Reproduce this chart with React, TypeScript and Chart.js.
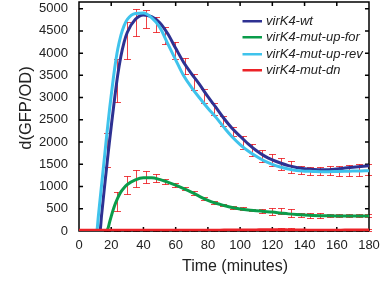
import React, { useEffect, useRef } from "react";
import { Chart, registerables } from "chart.js";

Chart.register(...registerables);

// Fitted curves sampled at these times (minutes)
const curveT = [0, 5, 10, 11, 12, 13, 14, 15, 16, 17, 18, 19, 20, 22, 24, 26, 28, 30,
  35, 40, 45, 50, 55, 60, 65, 70, 75, 80, 85, 90, 95, 100, 105, 110, 115, 120, 125, 130,
  135, 140, 145, 150, 155, 160, 165, 170, 175, 180];

const wtCurve = [0, 0, 0, 0, 0, 0, 350, 700, 1050, 1380, 1720, 2040, 2350, 2950, 3500, 3930, 4250, 4470,
  4760, 4860, 4820, 4690, 4440, 4110, 3790, 3530, 3285, 3020, 2780, 2530, 2310, 2130, 1960, 1810, 1690, 1600, 1530, 1470,
  1430, 1400, 1385, 1375, 1380, 1395, 1415, 1435, 1452, 1467];

const upForCurve = [0, 0, 0, 0, 0, 0, 0, 0, 0, 0, 60, 200, 330, 560, 740, 880, 975, 1045,
  1150, 1195, 1195, 1160, 1100, 1030, 955, 870, 775, 690, 625, 575, 530, 495, 470, 455, 440, 425, 405, 385,
  370, 358, 350, 345, 342, 340, 339, 338, 338, 338];

const upRevCurve = [0, 0, 0, 0, 330, 680, 1030, 1380, 1730, 2080, 2420, 2750, 3050, 3620, 4080, 4400, 4620, 4760,
  4890, 4900, 4800, 4590, 4220, 3850, 3490, 3220, 2985, 2760, 2555, 2330, 2120, 1945, 1800, 1680, 1575, 1500, 1440, 1395,
  1360, 1345, 1340, 1335, 1335, 1338, 1342, 1348, 1352, 1356];

const dnCurve = [15, 15, 15, 15, 15, 15, 15, 15, 15, 15, 15, 15, 15, 15, 15, 15, 15, 15,
  15, 15, 15, 15, 15, 15, 15, 15, 18, 18, 18, 20, 20, 20, 22, 25, 28, 30, 28, 25,
  22, 20, 18, 18, 18, 18, 20, 20, 20, 20];

// Measurement times with error bars
const errT = [17.5, 23.5, 29.5, 35.5, 41.5, 47.5, 53.5, 59.5, 65.5, 71.5, 77.5, 83.5, 89.5, 95.5,
  101.5, 107.5, 113.5, 119.5, 125.5, 131.5, 137.5, 143.5, 149.5, 155.5, 161.5, 167.5, 173.5, 179.5];

const wtLo = [1430, 2910, 3860, 4380, 4560, 4480, 4210, 3870, 3520, 3170, 2874, 2615, 2356, 2133,
  1837, 1690, 1556, 1452, 1370, 1310, 1282, 1260, 1267, 1259, 1244, 1244, 1244, 1250];
const wtHi = [2200, 3860, 4700, 5000, 4970, 4820, 4580, 4250, 3900, 3540, 3185, 2874, 2578, 2333,
  2133, 1950, 1815, 1726, 1650, 1575, 1467, 1450, 1444, 1467, 1467, 1489, 1518, 1500];

const upForLo = [null, 452, 822, 1000, 1090, 1110, 1060, 990, 920, 810, 700, 610, 555, 505,
  465, 440, 415, 370, 378, 319, 304, 296, 296, 304, 304, 304, 304, 304];
const upForHi = [null, 874, 1244, 1370, 1356, 1290, 1170, 1080, 990, 890, 775, 680, 615, 565,
  530, 505, 490, 526, 518, 504, 407, 407, 407, 393, 393, 378, 378, 378];

const dnLo = [0, 0, 0, 0, 0, 0, 0, 0, 0, 0, 0, 0, 0, 0,
  0, 0, 0, 0, 0, 0, 0, 0, 0, 0, 0, 0, 0, 0];
const dnHi = [30, 30, 30, 30, 35, 35, 30, 30, 30, 30, 35, 35, 35, 35,
  35, 40, 45, 50, 59, 59, 40, 35, 35, 35, 35, 35, 35, 35];

const xTicks = [0, 20, 40, 60, 80, 100, 120, 140, 160, 180];
const yTicks = [0, 500, 1000, 1500, 2000, 2500, 3000, 3500, 4000, 4500, 5000];
const X_MIN = 0;
const X_MAX = 180;
const Y_MIN = 0;
const Y_MAX = 5150;
// inward tick length, in data units (about 4 px each way)
const TICK_DY = 90;
const TICK_DX = 2.5;

const seriesNames = ["virK4-wt", "virK4-mut-up-for", "virK4-mut-up-rev", "virK4-mut-dn"];
const seriesColors = ["#2e3192", "#0a9c4a", "#3fc3ec", "#ec2227"];

const xTitle = "Time (minutes)";
const yTitle = "d(GFP/OD)";

const FONT = "'Liberation Sans', Arial, Helvetica, sans-serif";

function framePoints() {
  const p: any[] = [
    { x: X_MAX, y: Y_MIN }, { x: X_MIN, y: Y_MIN }, { x: X_MIN, y: Y_MAX },
    { x: X_MAX, y: Y_MAX }, { x: X_MAX, y: Y_MIN }, { x: X_MAX, y: null },
  ];
  for (const v of xTicks) {
    p.push({ x: v, y: Y_MIN }, { x: v, y: Y_MIN + TICK_DY }, { x: v, y: null });
    p.push({ x: v, y: Y_MAX }, { x: v, y: Y_MAX - TICK_DY }, { x: v, y: null });
  }
  for (const v of yTicks) {
    p.push({ x: X_MIN, y: v }, { x: X_MIN + TICK_DX, y: v }, { x: X_MIN, y: null });
    p.push({ x: X_MAX, y: v }, { x: X_MAX - TICK_DX, y: v }, { x: X_MAX, y: null });
  }
  return p;
}

export default function App() {
  const ref = useRef<HTMLCanvasElement>(null);

  useEffect(() => {
    const canvas = ref.current;
    if (!canvas) return;
    const pts = (arr: number[]) => curveT.map((t, i) => ({ x: t, y: arr[i] }));
    const errorSets = [
      { lo: wtLo, hi: wtHi },
      { lo: upForLo, hi: upForHi },
      { lo: dnLo, hi: dnHi },
    ];

    const decor = {
      id: "decor",
      beforeDatasetsDraw(chart: any) {
        const ctx = chart.ctx;
        const x = chart.scales.x;
        const y = chart.scales.y;
        ctx.save();
        ctx.fillStyle = "rgba(236,34,39,0.85)";
        for (const s of errorSets) {
          for (let i = 0; i < errT.length; i++) {
            const lo = s.lo[i];
            const hi = s.hi[i];
            if (lo == null || hi == null) continue;
            const px = Math.round(x.getPixelForValue(errT[i]));
            const y1 = Math.round(y.getPixelForValue(lo));
            const y2 = Math.round(y.getPixelForValue(hi));
            ctx.fillRect(px, y2, 1, y1 - y2 + 1);
            ctx.fillRect(px - 3, y1, 7, 1);
            ctx.fillRect(px - 3, y2, 7, 1);
          }
        }
        ctx.restore();
      },
      afterDraw(chart: any) {
        const ctx = chart.ctx;
        ctx.save();
        // legend
        const lx0 = 242.5;
        const ly0 = 20.5;
        const step = 16.5;
        ctx.font = `italic 13px ${FONT}`;
        ctx.textAlign = "left";
        ctx.textBaseline = "middle";
        seriesNames.forEach((name, i) => {
          const yy = ly0 + i * step;
          ctx.fillStyle = seriesColors[i];
          ctx.fillRect(lx0, Math.round(yy) - 1, 19.5, 2.5);
          ctx.fillStyle = "#222";
          ctx.fillText(name, 266, yy + 0.5);
        });
        // axis titles
        ctx.fillStyle = "#222";
        ctx.font = `16px ${FONT}`;
        ctx.textAlign = "center";
        ctx.textBaseline = "middle";
        ctx.fillText(xTitle, 235, 267);
        ctx.translate(26, 108);
        ctx.rotate(-Math.PI / 2);
        ctx.font = `16.5px ${FONT}`;
        ctx.fillText(yTitle, 0, 0);
        ctx.restore();
      },
    };

    const mk = (label: string, data: number[], color: string, order: number) => ({
      label,
      data: pts(data),
      borderColor: color,
      backgroundColor: color,
      borderWidth: 3,
      pointRadius: 0,
      fill: false,
      cubicInterpolationMode: "monotone" as const,
      order,
    });

    const chart = new Chart(canvas, {
      type: "line",
      data: {
        datasets: [
          mk(seriesNames[0], wtCurve, seriesColors[0], 3),
          mk(seriesNames[1], upForCurve, seriesColors[1], 2),
          mk(seriesNames[2], upRevCurve, seriesColors[2], 1),
          mk(seriesNames[3], dnCurve, seriesColors[3], 0),
          {
            label: "frame",
            data: framePoints(),
            borderColor: "#000",
            backgroundColor: "#000",
            borderWidth: 1.5,
            pointRadius: 0,
            fill: false,
            tension: 0,
            spanGaps: false,
            clip: false,
            order: 10,
          } as any,
        ],
      },
      options: {
        responsive: false,
        animation: false,
        parsing: true,
        layout: { padding: { left: 0, right: 20, top: 2, bottom: 0 } },
        plugins: { legend: { display: false }, tooltip: { enabled: false } },
        scales: {
          x: {
            type: "linear",
            min: X_MIN,
            max: X_MAX,
            afterBuildTicks: (s: any) => {
              s.ticks = xTicks.map((v) => ({ value: v }));
            },
            afterFit: (s: any) => {
              s.height = 50;
              s.paddingLeft = 0;
              s.paddingRight = 0;
            },
            ticks: {
              font: { family: FONT, size: 13 },
              color: "#222",
              padding: 7,
              maxRotation: 0,
              autoSkip: false,
              callback: (v: any) => String(v),
            },
            grid: { display: false, drawTicks: false },
            border: { display: false },
          },
          y: {
            type: "linear",
            min: Y_MIN,
            max: Y_MAX,
            afterBuildTicks: (s: any) => {
              s.ticks = yTicks.map((v) => ({ value: v }));
            },
            afterFit: (s: any) => {
              s.width = 79;
              s.paddingTop = 0;
              s.paddingBottom = 0;
            },
            ticks: {
              font: { family: "'Liberation Sans Narrow', " + FONT, size: 13 },
              color: "#222",
              padding: 11,
              autoSkip: false,
              callback: (v: any) => String(v),
            },
            grid: { display: false, drawTicks: false },
            border: { display: false },
          },
        },
      },
      plugins: [decor],
    });
    return () => chart.destroy();
  }, []);

  return (
    <div style={{ position: "fixed", left: 0, top: 0, width: 389, height: 281, background: "#fff" }}>
      <canvas ref={ref} width={389} height={281} />
    </div>
  );
}
